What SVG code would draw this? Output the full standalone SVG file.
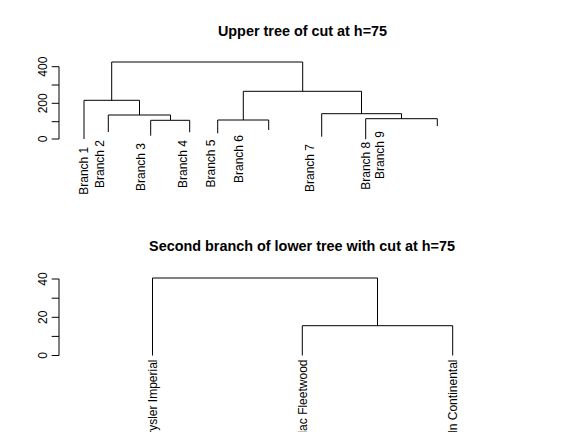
<svg xmlns="http://www.w3.org/2000/svg" width="576" height="432" viewBox="0 0 576 432">
<style>
.ln{stroke:#000;stroke-width:1;fill:none}
.t{font-family:"Liberation Sans",Arial,sans-serif;font-size:12px;fill:#000}
.lab{text-anchor:end}
.tk{text-anchor:middle}
.ttl{font-family:"Liberation Sans",Arial,sans-serif;font-size:14.4px;font-weight:bold;text-anchor:middle;fill:#000}
</style>
<rect width="576" height="432" fill="#fff"/>
<text class="ttl" x="302.5" y="35.5">Upper tree of cut at h=75</text>
<text class="ttl" x="302" y="250.5">Second branch of lower tree with cut at h=75</text>
<g id="axis-upper">
<path class="ln" d="M59 66.7V139M51.7 66.7H59M51.7 85H59M51.7 103.3H59M51.7 121.7H59M51.7 139H59"/>
<text class="t tk" transform="translate(47.3,139) rotate(-90)">0</text>
<text class="t tk" transform="translate(47.3,103.3) rotate(-90)">200</text>
<text class="t tk" transform="translate(47.3,66.7) rotate(-90)">400</text>
</g>
<g id="axis-lower">
<path class="ln" d="M59 279V355.5M51.7 279H59M51.7 298.2H59M51.7 317.3H59M51.7 336.4H59M51.7 355.5H59"/>
<text class="t tk" transform="translate(47.3,355.5) rotate(-90)">0</text>
<text class="t tk" transform="translate(47.3,317.3) rotate(-90)">20</text>
<text class="t tk" transform="translate(47.3,279) rotate(-90)">40</text>
</g>
<g id="connectors">
<path class="ln" d="M111.7 100.3V62H302.7V91.3"/>
<path class="ln" d="M84 139V100.3H139.5V115"/>
<path class="ln" d="M108.3 132V115H170.5V120.3"/>
<path class="ln" d="M150.7 135.7V120.3H189.7V132.3"/>
<path class="ln" d="M243.3 120V91.3H361.5V113.7"/>
<path class="ln" d="M217.7 133.3V120H268.7V130"/>
<path class="ln" d="M321.7 136.7V113.7H401.5V118.7"/>
<path class="ln" d="M365.7 139.3V118.7H437.3V126"/>
<path class="ln" d="M152.5 355.5V278H377.5V325.7"/>
<path class="ln" d="M302.3 355.5V325.7H452.7V355.5"/>
</g>
<g id="branch-1"><text class="t lab" transform="translate(88.3,146.7) rotate(-90)">Branch 1</text></g>
<g id="branch-2"><text class="t lab" transform="translate(103.5,140) rotate(-90)">Branch 2</text></g>
<g id="branch-3"><text class="t lab" transform="translate(145,143) rotate(-90)">Branch 3</text></g>
<g id="branch-4"><text class="t lab" transform="translate(187.2,140) rotate(-90)">Branch 4</text></g>
<g id="branch-5"><text class="t lab" transform="translate(215,139.5) rotate(-90)">Branch 5</text></g>
<g id="branch-6"><text class="t lab" transform="translate(242.6,135) rotate(-90)">Branch 6</text></g>
<g id="branch-7"><text class="t lab" transform="translate(314.3,144) rotate(-90)">Branch 7</text></g>
<g id="branch-8"><text class="t lab" transform="translate(370.3,141.7) rotate(-90)">Branch 8</text></g>
<g id="branch-9"><text class="t lab" transform="translate(383.8,131) rotate(-90)">Branch 9</text></g>
<g id="chrysler-imperial"><text class="t lab" transform="translate(156.8,359.5) rotate(-90)">Chrysler Imperial</text></g>
<g id="cadillac-fleetwood"><text class="t lab" transform="translate(306.6,359.5) rotate(-90)">Cadillac Fleetwood</text></g>
<g id="lincoln-continental"><text class="t lab" transform="translate(457,359.5) rotate(-90)">Lincoln Continental</text></g>
</svg>
